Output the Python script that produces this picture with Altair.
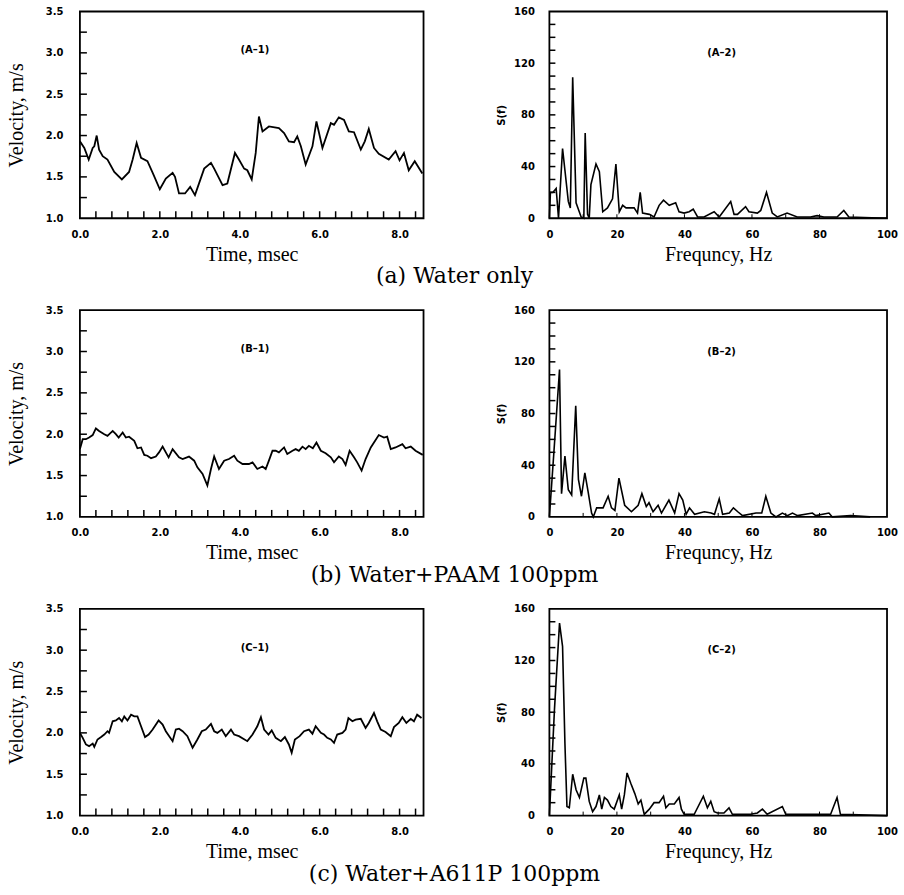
import altair as alt
import pandas as pd

SERIF = "Liberation Serif"
CAPFONT = "DejaVu Serif"
SANS = "DejaVu Sans"

# ---- (A-1) Water only : velocity vs time
a1_t = [0.00,0.11,0.22,0.32,0.36,0.42,0.48,0.57,0.69,0.86,1.05,1.23,1.32,1.42,1.53,1.69,1.83,2.00,2.15,2.32,
        2.38,2.48,2.63,2.76,2.88,3.11,3.28,3.36,3.57,3.69,3.88,3.98,4.11,4.19,4.30,4.40,4.48,4.57,4.73,4.98,
        5.11,5.23,5.36,5.44,5.53,5.65,5.82,5.92,6.07,6.28,6.36,6.48,6.61,6.73,6.86,7.03,7.13,7.23,7.36,7.48,
        7.73,7.90,8.00,8.11,8.23,8.38,8.57]
a1_v = [1.93,1.85,1.71,1.85,1.87,2.00,1.83,1.75,1.71,1.56,1.47,1.56,1.71,1.91,1.73,1.69,1.54,1.35,1.48,1.55,
        1.50,1.30,1.30,1.38,1.28,1.60,1.67,1.60,1.40,1.42,1.79,1.71,1.60,1.58,1.47,1.79,2.23,2.05,2.11,2.09,
        2.03,1.93,1.92,1.99,1.87,1.65,1.87,2.17,1.85,2.15,2.13,2.22,2.19,2.05,2.04,1.83,1.93,2.08,1.85,1.78,
        1.71,1.81,1.70,1.79,1.58,1.69,1.54]

# ---- (B-1) Water + PAAM 100ppm
b1_t = [0.00,0.07,0.15,0.23,0.32,0.40,0.48,0.61,0.69,0.82,0.90,0.97,1.07,1.15,1.23,1.36,1.44,1.53,1.61,1.69,
        1.78,1.90,1.98,2.07,2.15,2.22,2.32,2.48,2.57,2.73,2.86,2.94,3.07,3.19,3.28,3.36,3.48,3.61,3.73,3.86,
        3.94,4.07,4.23,4.32,4.44,4.57,4.65,4.73,4.82,4.90,4.98,5.11,5.19,5.32,5.40,5.48,5.57,5.65,5.73,5.83,
        5.92,6.03,6.15,6.28,6.36,6.48,6.57,6.65,6.75,6.86,6.94,7.05,7.15,7.28,7.36,7.48,7.61,7.69,7.78,7.90,
        8.07,8.15,8.28,8.40,8.58]
b1_v = [1.82,1.94,1.94,1.96,1.99,2.07,2.04,2.00,1.98,2.04,2.00,1.96,2.02,1.96,1.97,1.92,1.83,1.84,1.75,1.74,
        1.71,1.73,1.78,1.85,1.78,1.72,1.82,1.72,1.70,1.73,1.68,1.60,1.52,1.38,1.58,1.73,1.58,1.68,1.70,1.74,
        1.68,1.64,1.64,1.66,1.58,1.61,1.58,1.68,1.80,1.80,1.78,1.84,1.76,1.80,1.82,1.80,1.85,1.82,1.86,1.83,
        1.90,1.80,1.77,1.72,1.66,1.73,1.70,1.63,1.80,1.72,1.66,1.56,1.70,1.84,1.90,1.99,1.96,1.97,1.82,1.84,
        1.88,1.83,1.85,1.80,1.75]

# ---- (C-1) Water + A611P 100ppm
c1_t = [0.00,0.07,0.15,0.23,0.32,0.36,0.44,0.53,0.61,0.69,0.73,0.82,0.90,0.98,1.05,1.11,1.19,1.28,1.36,1.44,
        1.53,1.63,1.72,1.82,1.97,2.07,2.15,2.32,2.40,2.48,2.57,2.69,2.82,2.94,3.05,3.15,3.28,3.36,3.44,3.55,
        3.65,3.78,3.86,3.98,4.19,4.32,4.44,4.53,4.61,4.72,4.80,4.90,5.03,5.13,5.23,5.30,5.38,5.50,5.61,5.73,
        5.82,5.90,6.03,6.11,6.19,6.28,6.36,6.44,6.57,6.65,6.72,6.82,6.90,7.03,7.15,7.23,7.36,7.44,7.53,7.65,
        7.78,7.86,7.98,8.07,8.17,8.28,8.36,8.44,8.55]
c1_v = [2.00,1.94,1.86,1.84,1.87,1.83,1.92,1.95,1.98,2.02,2.00,2.14,2.15,2.18,2.14,2.20,2.15,2.22,2.20,2.20,
        2.08,1.95,1.98,2.04,2.15,2.10,2.02,1.90,2.04,2.05,2.02,1.96,1.82,1.92,2.02,2.04,2.11,2.02,2.00,2.04,
        1.96,2.04,1.98,1.96,1.90,1.98,2.08,2.19,2.04,1.98,2.03,1.94,1.90,1.95,1.86,1.76,1.92,1.96,2.02,2.04,
        1.99,2.08,2.00,1.98,1.94,1.92,1.88,1.98,2.00,2.04,2.18,2.14,2.16,2.17,2.06,2.12,2.24,2.14,2.04,2.01,
        1.96,2.07,2.12,2.19,2.12,2.17,2.14,2.22,2.18]

# ---- (A-2) spectrum
a2_f = [0,0.3,1.0,2.0,2.7,3.9,5.6,6.2,6.9,7.9,9.4,10.2,10.6,11.3,11.8,12.3,13.8,14.8,15.8,17.2,
        18.7,19.7,20.7,21.7,22.7,25.1,26.1,26.9,27.6,29.6,31.0,32.5,33.8,35.5,37.4,38.4,39.9,41.4,42.6,43.9,
        45.8,48.8,50.3,53.7,54.7,55.7,58.1,59.1,61.6,62.6,64.3,66.0,67.5,70.4,73.4,77.3,79.3,81.3,85.2,87.2,
        88.7,100]
a2_s = [0,20,20,23,0,54,13,8,109,12,1,0,66,3,0,26,42,36,5,8,
        15,42,5,10,8,8,4,20,4,3,1,10,14,10,12,5,4,5,7,1,
        1,5,1,13,3,3,9,5,4,6,20,4,1,4,1,1,2,1,1,6,
        1,0]

# ---- (B-2) spectrum
b2_f = [0,1.2,3.0,3.6,4.6,5.6,6.6,7.8,8.6,9.5,10.5,11.5,12.5,13.0,14.0,15.9,17.4,18.4,19.4,20.6,
        22.3,24.3,26.3,27.4,28.7,29.5,30.7,32.2,33.2,35.4,37.1,38.4,39.5,40.5,41.5,43.0,45.9,47.9,48.9,50.3,
        51.3,53.3,54.5,55.8,57.2,61.2,62.9,64.1,65.6,67.1,69.0,70.5,72.0,73.5,77.9,78.9,82.8,83.8,89.2,95]
b2_s = [0,45,114,18,47,21,17,86,29,16,34,19,3,0,7,7,16,7,5,30,
        9,4,9,18,8,11,4,9,3,13,3,18,13,2,7,2,4,3,2,14,
        2,3,7,4,1,3,3,16,3,0,3,1,3,1,3,1,3,0,1,0]

# ---- (C-2) spectrum
c2_f = [0,1.5,3.0,3.9,4.6,5.2,5.9,6.9,7.9,8.9,10.2,10.8,11.8,12.8,13.8,14.8,15.5,16.3,17.2,18.2,
        19.2,20.7,21.4,22.2,23.0,24.1,25.3,26.3,27.1,28.1,29.6,31.0,32.5,33.8,34.5,35.5,37.0,38.4,39.1,39.9,
        42.9,45.6,46.8,47.8,48.8,49.8,51.7,53.2,54.2,59.6,61.6,63.1,64.5,69.0,70.0,83.3,85.2,86.2,100]
c2_s = [0,82,149,131,56,7,6,32,20,14,29,29,11,3,7,16,5,14,12,7,
        5,16,5,16,33,25,17,9,12,1,5,10,10,15,6,9,9,14,5,1,
        1,15,6,11,3,2,2,6,1,1,2,5,1,7,1,1,14,1,0]

# ---- axis labels / ticks
vel_labels = [1.0, 1.5, 2.0, 2.5, 3.0, 3.5]
vel_ticks = [1.25, 1.5, 1.75, 2.0, 2.25, 2.5, 2.75, 3.0, 3.25]
time_labels = [0.0, 2.0, 4.0, 6.0, 8.0]
time_ticks = [0.4, 0.8, 1.2, 1.6, 2.0, 2.4, 2.8, 3.2, 3.6, 4.0, 4.4, 4.8, 5.2, 5.6, 6.0, 6.4, 6.8,
              7.2, 7.6, 8.0, 8.4]
s_labels = [0, 40, 80, 120, 160]
s_ticks = [10, 20, 30, 40, 50, 60, 70, 80, 90, 100, 110, 120, 130, 140, 150]
f_labels = [0, 20, 40, 60, 80, 100]
f_ticks = [10, 20, 30, 40, 50, 60, 70, 80, 90]

panel_labels = ["(A\u20131)", "(A\u20132)", "(B\u20131)", "(B\u20132)", "(C\u20131)", "(C\u20132)"]
captions = ["(a)  Water only", "(b)  Water+PAAM 100ppm", "(c)  Water+A611P 100ppm"]

WL, WR, H = 344, 338, 207


def time_panel(t, v, label, caption):
    xs = alt.Scale(domain=[0, 8.6], nice=False, zero=False)
    ys = alt.Scale(domain=[1.0, 3.5], nice=False, zero=False)
    xax = alt.Axis(title="Time, msec", values=time_labels, format=".1f", labelPadding=11,
                   titlePadding=5, labelFlush=False)
    yax = alt.Axis(title="Velocity, m/s", values=vel_labels, format=".1f", labelPadding=17,
                   titlePadding=19)
    line = alt.Chart(pd.DataFrame({"t": t, "v": v})).mark_line(
        color="black", strokeWidth=1.8
    ).encode(x=alt.X("t:Q", scale=xs, axis=xax), y=alt.Y("v:Q", scale=ys, axis=yax))
    yt = alt.Chart(pd.DataFrame({"v": vel_ticks})).mark_rule(color="black", strokeWidth=1.5).encode(
        y=alt.Y("v:Q", scale=ys, axis=yax), x=alt.value(0), x2=alt.value(7))
    xt = alt.Chart(pd.DataFrame({"t": time_ticks})).mark_rule(color="black", strokeWidth=1.5).encode(
        x=alt.X("t:Q", scale=xs, axis=xax), y=alt.value(H), y2=alt.value(H - 7))
    lab = alt.Chart(pd.DataFrame({"t": [4.38], "v": [3.03], "s": [label]})).mark_text(
        font=SANS, fontWeight="bold", fontSize=10, color="black").encode(
        x=alt.X("t:Q", scale=xs, axis=xax), y=alt.Y("v:Q", scale=ys, axis=yax), text="s:N")
    cap = alt.Chart(pd.DataFrame({"s": [caption]})).mark_text(
        font=CAPFONT, fontSize=22, color="black", align="center", baseline="middle").encode(
        text="s:N", x=alt.value(375), y=alt.value(H + 58))
    return alt.layer(line, yt, xt, lab, cap).properties(width=WL, height=H)


def freq_panel(f, s, label):
    xs = alt.Scale(domain=[0, 100], nice=False, zero=False)
    ys = alt.Scale(domain=[0, 160], nice=False, zero=False)
    xax = alt.Axis(title="Frequncy, Hz", values=f_labels, format="d", labelPadding=11,
                   titlePadding=5, labelFlush=False)
    yax = alt.Axis(title="S(f)", values=s_labels, format="d", labelPadding=15, titlePadding=7,
                   titleFont=SANS, titleFontWeight="bold", titleFontSize=10)
    line = alt.Chart(pd.DataFrame({"f": f, "s": s})).mark_line(
        color="black", strokeWidth=1.6
    ).encode(x=alt.X("f:Q", scale=xs, axis=xax), y=alt.Y("s:Q", scale=ys, axis=yax))
    yt = alt.Chart(pd.DataFrame({"s": s_ticks})).mark_rule(color="black", strokeWidth=1.5).encode(
        y=alt.Y("s:Q", scale=ys, axis=yax), x=alt.value(0), x2=alt.value(6))
    xt = alt.Chart(pd.DataFrame({"f": f_ticks})).mark_rule(color="black", strokeWidth=1).encode(
        x=alt.X("f:Q", scale=xs, axis=xax), y=alt.value(H), y2=alt.value(H - 4))
    lab = alt.Chart(pd.DataFrame({"f": [51], "s": [128], "t": [label]})).mark_text(
        font=SANS, fontWeight="bold", fontSize=10, color="black").encode(
        x=alt.X("f:Q", scale=xs, axis=xax), y=alt.Y("s:Q", scale=ys, axis=yax), text="t:N")
    return alt.layer(line, yt, xt, lab).properties(width=WR, height=H)


a1 = time_panel(a1_t, a1_v, panel_labels[0], captions[0])
a2 = freq_panel(a2_f, a2_s, panel_labels[1])
b1 = time_panel(b1_t, b1_v, panel_labels[2], captions[1])
b2 = freq_panel(b2_f, b2_s, panel_labels[3])
c1 = time_panel(c1_t, c1_v, panel_labels[4], captions[2])
c2 = freq_panel(c2_f, c2_s, panel_labels[5])

chart = alt.concat(
    a1, a2, b1, b2, c1, c2, columns=2, spacing={"row": 92, "column": 126}, bounds="flush"
).properties(
    background="white", padding={"left": 5, "top": 5, "right": 5, "bottom": 5}
).configure_view(
    stroke="black", strokeWidth=1.8
).configure_axis(
    grid=False, domain=False, ticks=False,
    labelFont=SANS, labelFontWeight="bold", labelFontSize=10, labelColor="black",
    titleFont=SERIF, titleFontSize=20, titleFontWeight="normal", titleColor="black"
)

chart.save("out.html", embed_options={"renderer": "svg", "actions": False})
